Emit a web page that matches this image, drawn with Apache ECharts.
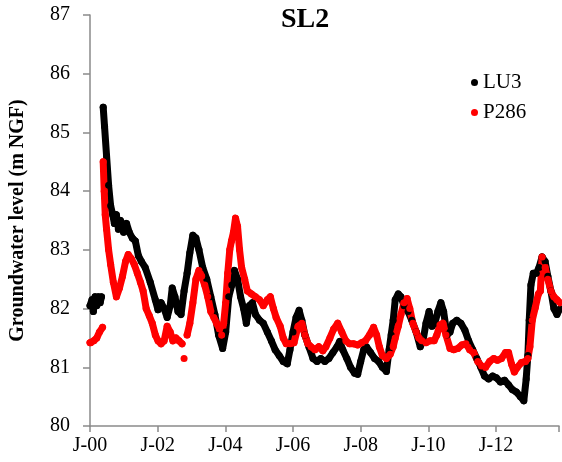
<!DOCTYPE html>
<html>
<head>
<meta charset="utf-8">
<script src="https://cdn.jsdelivr.net/npm/echarts@6/dist/echarts.min.js"></script>
<style>
  html, body { margin: 0; padding: 0; background: #fff; }
  #chart { width: 562px; height: 462px; }
</style>
</head>
<body>
<div id="chart"></div>
<script>
  // years since Jan 2000; null = gap in record
  var lu3Years = [0.0, 0.06, 0.1, 0.15, 0.2, 0.25, 0.3, 0.34, 0.36,
    0.39, 0.43, 0.49, 0.55, 0.61, 0.67, 0.72, 0.78, 0.84, 0.90, 0.99, 1.08, 1.16, 1.25, 1.34, 1.43, 1.52, 1.63, 1.78, 1.93,
    2.01, 2.10, 2.19, 2.28, 2.37, 2.43, 2.51, 2.60, 2.69, 2.78, 2.87, 2.95, 3.04, 3.13, 3.22, 3.33, 3.45, 3.57, 3.69, 3.80, 3.92,
    4.01, 4.10, 4.19, 4.27, 4.36, 4.45, 4.54, 4.62, 4.71, 4.80, 4.89, 5.01, 5.12, 5.24, 5.36, 5.47, 5.59, 5.71, 5.83, 5.91,
    6.00, 6.09, 6.18, 6.26, 6.35, 6.47, 6.59, 6.71, 6.82, 6.94, 7.06, 7.18, 7.30, 7.38, 7.47, 7.59, 7.70, 7.82, 7.91,
    8.00, 8.09, 8.17, 8.29, 8.41, 8.53, 8.64, 8.76, 8.84, 8.90, 8.96, 9.02, 9.11, 9.19, 9.28, 9.40, 9.51, 9.64, 9.76, 9.84, 9.93,
    10.02, 10.11, 10.19, 10.28, 10.37, 10.45, 10.55, 10.64, 10.72, 10.84, 10.96, 11.08, 11.19, 11.31, 11.43, 11.55, 11.66, 11.78, 11.90,
    12.01, 12.13, 12.25, 12.37, 12.48, 12.60, 12.72, 12.82, 12.89, 12.94, 12.98, 13.03, 13.10, 13.19, 13.27, 13.36, 13.45, 13.53, 13.62, 13.71, 13.80, 13.89];
  var lu3Levels = [82.05, 82.15, 81.95, 82.2, 82.05, 82.2, 82.1, 82.2, null,
    85.43, 85.1, 84.6, 84.1, 83.75, 83.6, 83.45, 83.6, 83.35, 83.5, 83.3, 83.45, 83.3, 83.2, 83.15, 82.9, 82.8, 82.7, 82.45, 82.15,
    81.98, 82.1, 82.0, 81.85, 82.05, 82.35, 82.2, 81.95, 81.9, 82.3, 82.6, 82.95, 83.25, 83.2, 83.0, 82.7, 82.5, 82.2, 81.9, 81.55, 81.32,
    81.6, 82.2, 82.4, 82.65, 82.5, 82.2, 82.0, 81.75, 82.05, 82.1, 81.9, 81.8, 81.75, 81.6, 81.45, 81.3, 81.2, 81.1, 81.06, 81.3,
    81.6, 81.85, 81.97, 81.8, 81.55, 81.35, 81.15, 81.1, 81.15, 81.1, 81.15, 81.25, 81.35, 81.44, 81.3, 81.15, 81.0, 80.9, 80.88,
    81.1, 81.3, 81.35, 81.25, 81.15, 81.1, 81.0, 80.93, 81.3, 81.55, 81.8, 82.15, 82.25, 82.2, 82.05, 81.95, 81.8, 81.6, 81.35, 81.45, 81.75,
    81.95, 81.7, 81.75, 81.95, 82.1, 81.95, 81.55, 81.6, 81.75, 81.8, 81.75, 81.63, 81.45, 81.3, 81.15, 81.0, 80.85, 80.8, 80.85,
    80.82, 80.75, 80.78, 80.7, 80.62, 80.58, 80.5, 80.43, 80.8, 81.2, 81.8, 82.4, 82.6, 82.6, 82.7, 82.88, 82.8, 82.55, 82.3, 82.0, 81.9, 82.0];

  var p286Years = [0.0, 0.02, 0.11, 0.2, 0.28, 0.37, 0.38,
    0.39, 0.42, 0.45, 0.49, 0.55, 0.61, 0.69, 0.78, 0.87, 0.96, 1.05, 1.13, 1.22, 1.31, 1.40, 1.49, 1.57, 1.66, 1.75, 1.84, 1.93,
    2.01, 2.10, 2.19, 2.28, 2.37, 2.45, 2.54, 2.63, 2.72, 2.75, 2.78, 2.80, 2.87, 2.95, 3.04, 3.13, 3.22, 3.30, 3.39, 3.48, 3.57, 3.66, 3.74, 3.83, 3.89, 3.95,
    4.01, 4.07, 4.13, 4.18, 4.24, 4.30, 4.36, 4.42, 4.48, 4.57, 4.65, 4.77, 4.89, 5.01, 5.12, 5.24, 5.33, 5.42, 5.50, 5.62, 5.71, 5.80, 5.91,
    6.03, 6.15, 6.26, 6.35, 6.44, 6.53, 6.65, 6.76, 6.88, 6.97, 7.09, 7.20, 7.32, 7.44, 7.56, 7.67, 7.79, 7.91,
    8.03, 8.14, 8.26, 8.38, 8.47, 8.55, 8.64, 8.76, 8.87, 8.96, 9.02, 9.11, 9.19, 9.28, 9.37, 9.45, 9.54, 9.64, 9.72, 9.81, 9.93,
    10.05, 10.17, 10.25, 10.34, 10.43, 10.52, 10.64, 10.75, 10.87, 10.99, 11.11, 11.22, 11.34, 11.46, 11.57, 11.69, 11.81, 11.93,
    12.04, 12.16, 12.28, 12.37, 12.46, 12.54, 12.63, 12.75, 12.87, 12.94, 13.00, 13.07, 13.16, 13.25, 13.31, 13.36, 13.45, 13.53, 13.62, 13.71, 13.80, 13.89];
  var p286Levels = [81.42, 81.42, 81.45, 81.5, 81.6, 81.68, null,
    84.5, 84.0, 83.6, 83.35, 83.0, 82.75, 82.45, 82.2, 82.35, 82.55, 82.8, 82.92, 82.85, 82.75, 82.6, 82.45, 82.3, 82.0, 81.88, 81.75, 81.55,
    81.45, 81.4, 81.45, 81.7, 81.6, 81.45, 81.5, 81.45, 81.4, null, 81.15, null, 81.55, 81.75, 82.1, 82.5, 82.65, 82.55, 82.4, 82.2, 81.95, 81.85, 81.75, 81.65, 81.55, 81.75,
    82.1, 82.6, 83.0, 83.15, 83.3, 83.54, 83.4, 83.0, 82.7, 82.5, 82.3, 82.25, 82.2, 82.15, 82.05, 82.15, 82.2, 82.0, 81.85, 81.7, 81.5, 81.4, 81.4,
    81.42, 81.7, 81.75, 81.55, 81.4, 81.35, 81.3, 81.35, 81.28, 81.35, 81.5, 81.65, 81.75, 81.6, 81.45, 81.4, 81.4, 81.38,
    81.42, 81.45, 81.55, 81.68, 81.55, 81.35, 81.2, 81.15, 81.22, 81.35, 81.5, 81.7, 81.9, 82.1, 82.17, 82.0, 81.75, 81.6, 81.5, 81.45, 81.42,
    81.45, 81.45, 81.55, 81.72, 81.75, 81.55, 81.32, 81.3, 81.32, 81.38, 81.4, 81.3, 81.25, 81.1, 81.02, 81.0, 81.1, 81.15,
    81.12, 81.15, 81.25, 81.25, 81.05, 80.92, 81.0, 81.08, 81.1, 81.15, 81.35, 81.8, 82.02, 82.25, 82.3, 82.88, 82.7, 82.5, 82.3, 82.2, 82.15, 82.1];

  var yearTicks = ["J-00", "J-02", "J-04", "J-06", "J-08", "J-10", "J-12"];

  function pairs(xs, ys) {
    return xs.map(function (x, i) { return ys[i] == null ? [x, "-"] : [x, ys[i]]; });
  }

  var SERIF = "'Liberation Serif', 'Times New Roman', serif";
  var AXIS = "#8a8a8a";

  var chart = echarts.init(document.getElementById("chart"));
  chart.setOption({
    animation: false,
    title: {
      text: "SL2", left: 276, top: 1,
      textStyle: { fontFamily: SERIF, fontWeight: "bold", fontSize: 28, color: "#000" }
    },
    legend: {
      orient: "vertical", left: 466, top: 67, itemGap: 9,
      icon: "circle", itemWidth: 7, itemHeight: 7,
      textStyle: { fontFamily: SERIF, fontSize: 21, color: "#000" },
      data: ["LU3", "P286"]
    },
    grid: { left: 89, right: 0, top: 15, bottom: 36 },
    xAxis: {
      type: "value", min: 0, max: 13.86, interval: 2,
      axisLine: { lineStyle: { color: AXIS, width: 1.5 } },
      axisTick: { length: 6, lineStyle: { color: AXIS, width: 1.5 } },
      splitLine: { show: false },
      axisLabel: {
        margin: 10, fontFamily: SERIF, fontSize: 20, color: "#000",
        formatter: function (v) { return yearTicks[v / 2] || ""; }
      }
    },
    yAxis: {
      type: "value", min: 80, max: 87, interval: 1,
      name: "Groundwater level (m NGF)", nameLocation: "middle", nameGap: 62,
      nameTextStyle: { fontFamily: SERIF, fontWeight: "bold", fontSize: 20, color: "#000" },
      axisLine: { show: true, lineStyle: { color: AXIS, width: 1.5 } },
      axisTick: { show: true, length: 7, lineStyle: { color: AXIS, width: 1.5 } },
      splitLine: { show: false },
      axisLabel: { margin: 20, fontFamily: SERIF, fontSize: 20, color: "#000" }
    },
    series: [
      { name: "LU3", type: "line", data: pairs(lu3Years, lu3Levels),
        symbol: "circle", symbolSize: 7, showSymbol: true,
        itemStyle: { color: "#000" },
        lineStyle: { color: "#000", width: 7, cap: "round", join: "round" } },
      { name: "P286", type: "line", data: pairs(p286Years, p286Levels),
        symbol: "circle", symbolSize: 7, showSymbol: true,
        itemStyle: { color: "#ff0000" },
        lineStyle: { color: "#ff0000", width: 7, cap: "round", join: "round" } }
    ]
  });
</script>
</body>
</html>
